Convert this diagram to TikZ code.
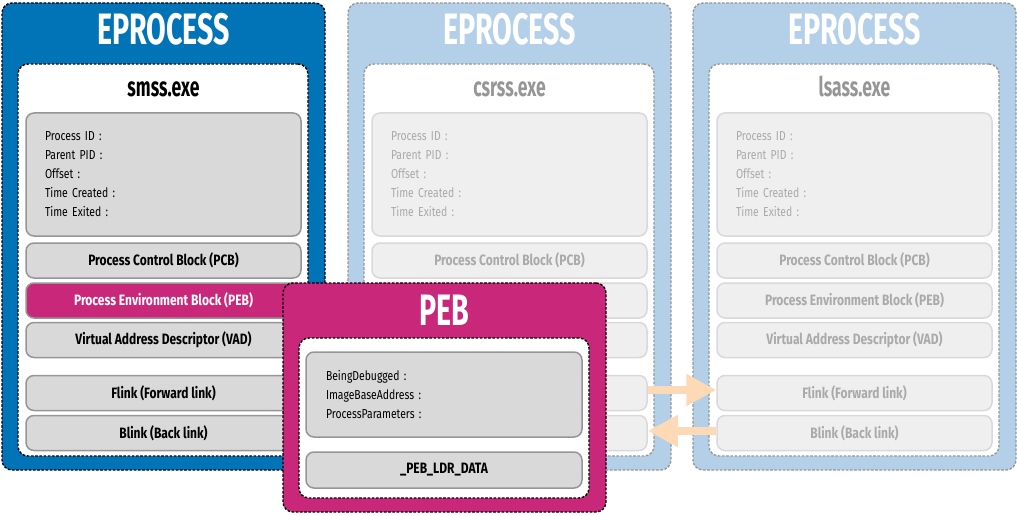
\documentclass[tikz,border=0pt]{standalone}
\usepackage{fontspec}
\setmainfont{Fira Sans}
\newfontfamily\headfont[FakeStretch=0.65]{Fira Sans}
\newfontfamily\bodyfont[FakeStretch=0.8]{Fira Sans}
\usetikzlibrary{arrows.meta}

\definecolor{epblue}{RGB}{0,116,183}
\definecolor{epfade}{RGB}{180,208,232}
\definecolor{pebmag}{RGB}{201,40,122}
\definecolor{boxgray}{RGB}{217,217,217}
\definecolor{boxedge}{RGB}{150,150,150}
\definecolor{fadebox}{RGB}{239,239,239}
\definecolor{fadeedge}{RGB}{217,217,217}
\definecolor{fadetext}{RGB}{170,170,170}
\definecolor{fadename}{RGB}{150,150,150}
\definecolor{fadeline}{RGB}{150,150,150}
\definecolor{linkarrow}{RGB}{253,217,181}

\tikzset{
  frame/.style={rectangle, rounded corners=10pt, line width=1.4pt,
    dash pattern=on 2.6pt off 1.6pt, inner sep=0pt},
  block/.style={rectangle, rounded corners=8pt, line width=1.5pt,
    minimum width=275pt, minimum height=35pt, inner sep=0pt,
    font=\bodyfont\bfseries\fontsize{15}{17}\selectfont},
  info/.style={block, align=left, text width=237pt, inner xsep=19pt,
    font=\bodyfont\fontsize{13}{19}\selectfont},
  heading/.style={anchor=base, text=white, inner sep=0pt,
    font=\headfont\bfseries\fontsize{44}{44}\selectfont},
  procname/.style={anchor=base, inner sep=0pt,
    font=\headfont\bfseries\fontsize{27}{27}\selectfont},
  link/.style={linkarrow, line width=8pt,
    -{Triangle[length=30pt,width=30pt]}},
  active/.style={
    pout/.style={frame, draw=black, fill=epblue},
    pin/.style={frame, draw=black, fill=white},
    pname/.style={text=black},
    pbox/.style={draw=boxedge, fill=boxgray, text=black},
    ppeb/.style={draw=boxedge, fill=pebmag, text=white}},
  faded/.style={
    pout/.style={frame, draw=fadeline, fill=epfade},
    pin/.style={frame, draw=fadeline, fill=white},
    pname/.style={text=fadename},
    pbox/.style={draw=fadeedge, fill=fadebox, text=fadetext},
    ppeb/.style={pbox}},
  pics/eproc/.style={code={
    \node[pout, minimum width=323pt, minimum height=467pt] (-outer) at (163.5,236.5) {};
    \node[heading] (-title) at (163.5,45) {EPROCESS};
    \node[pin, minimum width=290pt, minimum height=392pt] (-inner) at (163,260) {};
    \node[procname, pname] (-name) at (163.5,97) {#1};
    \node[info, pbox, minimum height=123pt] (-info) at (163.5,174.5)
      {Process ID :\\Parent PID :\\Offset :\\Time Created :\\Time Exited :};
    \node[block, pbox] (-pcb) at (163.5,260.5) {Process Control Block (PCB)};
    \node[block, ppeb] (-peb) at (163.5,300.5) {Process Environment Block (PEB)};
    \node[block, pbox] (-vad) at (163.5,340) {Virtual Address Descriptor (VAD)};
    \node[block, pbox] (-flink) at (163.5,393) {Flink (Forward link)};
    \node[block, pbox] (-blink) at (163.5,433) {Blink (Back link)};
  }}
}

\begin{document}
\begin{tikzpicture}[x=1pt, y=-1pt]
  \useasboundingbox (0,0) rectangle (1017,516);

  % three process objects
  \pic[active] (smss) at (0,0) {eproc={smss.exe}};
  \pic[faded] (csrss) at (346,0) {eproc={csrss.exe}};
  \pic[faded] (lsass) at (691,0) {eproc={lsass.exe}};

  % forward and back links between the list entries
  \draw[link] ([yshift=3pt]csrss-flink.east) -- ([yshift=3pt]lsass-flink.west);
  \draw[link] ([yshift=2pt]lsass-blink.west) -- ([yshift=2pt]csrss-blink.east);

  % process environment block, expanded
  \node[frame, draw=black, fill=pebmag, minimum width=323pt, minimum height=229pt]
    (peb) at (444.5,397.5) {};
  \node[heading] (peb-title) at (444.5,325) {PEB};
  \node[frame, draw=black, fill=white, minimum width=290pt, minimum height=160pt]
    (peb-inner) at (444,418) {};
  \node[info, draw=boxedge, fill=boxgray, minimum width=276pt, text width=236pt,
    inner xsep=20pt, minimum height=85pt] (peb-info) at (444,394.5)
    {BeingDebugged :\\ImageBaseAddress :\\ProcessParameters :};
  \node[block, draw=boxedge, fill=boxgray, minimum width=276pt, minimum height=36pt]
    (peb-ldr) at (444,470) {\_PEB\_LDR\_DATA};
\end{tikzpicture}
\end{document}
